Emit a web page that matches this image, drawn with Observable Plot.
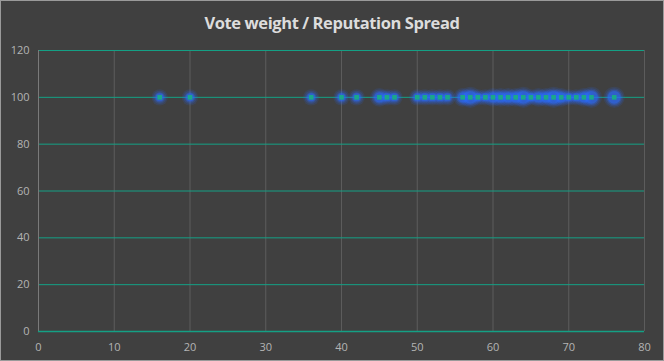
<!DOCTYPE html>
<html><head><meta charset="utf-8">
<script src="https://cdn.jsdelivr.net/npm/d3@7"></script>
<script src="https://cdn.jsdelivr.net/npm/@observablehq/plot@0.6"></script>
<style>
body{margin:0;background:#fff;}
#wrap{width:664px;height:361px;box-sizing:border-box;border:1px solid #9a9a9a;background:#404040;overflow:hidden;}
#title{height:40px;text-align:center;color:#dcdcdc;font:bold 16.5px "Open Sans",sans-serif;line-height:44px;letter-spacing:-0.4px;}
</style></head>
<body>
<div id="wrap"><div id="title">Vote weight / Reputation Spread</div><div id="chart"></div></div>
<script>
const reputation = [16,20,36,40,42,45,46,47,50,51,52,53,54,56,57,58,59,60,61,62,63,64,65,66,67,68,69,70,71,72,73,76];
const counts     = [1,1,1,1,1,2,1,1,1,1,1,1,1,2,3,1,1,2,2,2,2,3,1,2,2,3,2,1,1,2,3,3];
const voteWeight = reputation.map(() => 100);
const xTicks = [0,10,20,30,40,50,60,70,80];
const yTicks = [0,20,40,60,80,100,120];

const data = reputation.map((r,i) => ({rep: r, weight: voteWeight[i], n: counts[i]}));

const glowLayers = [
  {extra: 4.5, op: 0.12},
  {extra: 3, op: 0.18},
  {extra: 1.5, op: 0.3},
  {extra: 0.3, op: 0.45}
];

const chart = Plot.plot({
  width: 662, height: 319,
  marginTop: 9, marginBottom: 29, marginLeft: 37, marginRight: 19,
  style: {background: "transparent", color: "#b4b4b4", fontSize: "11px", fontFamily: "'Open Sans',sans-serif"},
  x: {domain: [0,80], ticks: xTicks, tickSize: 0, tickPadding: 12, label: null},
  y: {domain: [0,120], ticks: yTicks, tickSize: 0, tickPadding: 9, label: null},
  r: {type: "identity"},
  marks: [
    Plot.gridX(xTicks, {stroke: "#5c5c5c", strokeOpacity: 1}),
    Plot.gridY(yTicks.filter(d => d > 0), {stroke: "#14a085", strokeOpacity: 1}),
    Plot.ruleX([0], {stroke: "#7a7a7a"}),
    Plot.ruleY([0], {stroke: "#14a085", strokeWidth: 1.5}),
    ...glowLayers.map(g => Plot.dot(data, {
      x: "rep", y: "weight", r: d => 2.5 + d.n * 1.2 + g.extra,
      fill: "#2a6cff", fillOpacity: g.op, stroke: "none"
    })),
    Plot.dot(data, {x: "rep", y: "weight", r: 2.6, fill: "#1aa88a", stroke: "none", symbol: "square"})
  ]
});
document.getElementById("chart").appendChild(chart);
</script>
</body></html>
